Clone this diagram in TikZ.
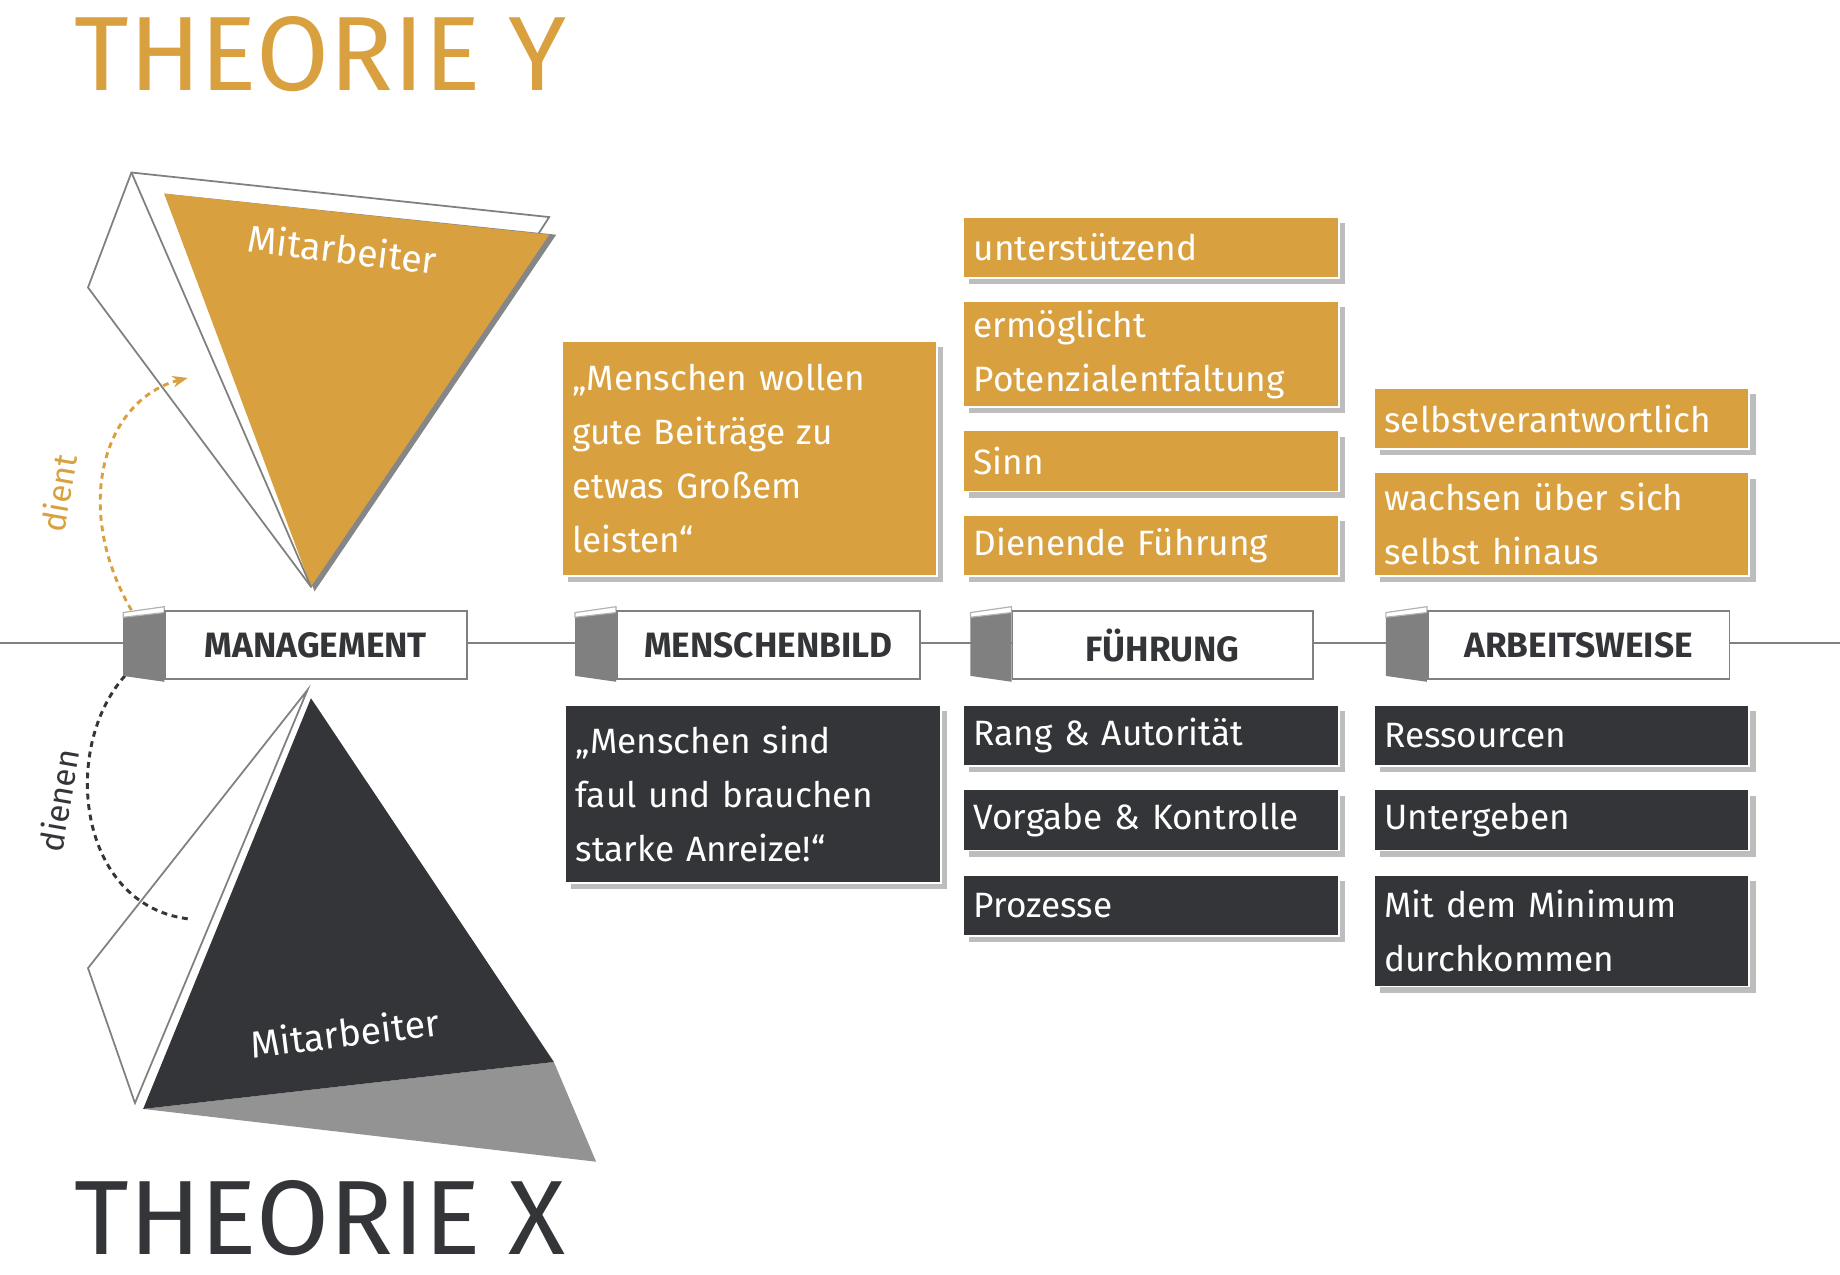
\documentclass[tikz,border=0pt]{standalone}
\usepackage{fontspec}
\setmainfont{Fira Sans}
\usetikzlibrary{arrows.meta}
\definecolor{org}{HTML}{D9A03F}
\definecolor{drk}{HTML}{333538}
\definecolor{shd}{HTML}{BDBDBD}
\tikzset{
 cbox/.style={anchor=north west,inner xsep=9pt,inner ysep=4pt,text=white,align=left,font=\fontsize{30}{46}\selectfont,draw=white,line width=1.5pt},
 obox/.style={cbox,fill=org},
 dbox/.style={cbox,fill=drk},
 hdr/.style={draw=gray,line width=1.5pt,fill=white,font=\fontsize{30}{36}\selectfont\bfseries,text=drk,inner sep=0pt},
 arc/.style={dash pattern=on 5pt off 4pt,line width=2.5pt,-{Stealth[length=13pt]}},
}
\begin{document}
\begin{tikzpicture}[x=1pt,y=-1pt]
\useasboundingbox (0,0) rectangle (1568,1086);
% titles
\node[anchor=west,text=org,font=\fontsize{90}{90}\selectfont] (ty) at (60,46) {THEORIE Y};
\node[anchor=west,text=drk,font=\fontsize{90}{90}\selectfont] (tx) at (60,1038) {THEORIE X};
% axis
\draw[gray,line width=1.5pt] (0,548) -- (1568,548);
% top triangle
\draw[gray,line width=1.5pt,fill=white] (112,147) -- (468,185) -- (265,500) -- (75,245) -- cycle;
\fill[drk!60] (140,165) -- (474,200) -- (268,504) -- cycle;
\fill[org] (140,165) -- (468,200) -- (265,500) -- cycle;
\draw[gray,line width=1.5pt] (112,147) -- (265,500);
\node[text=white,rotate=-7,font=\fontsize{32}{32}\selectfont] (m1) at (292,212) {Mitarbeiter};
% bottom triangle
\fill[gray!85] (122,945) -- (472,905) -- (508,990) -- cycle;
\draw[gray,line width=1.5pt,fill=white] (262,588) -- (75,825) -- (115,940) -- cycle;
\fill[drk] (265,595) -- (472,905) -- (122,945) -- cycle;
\node[text=white,rotate=7,font=\fontsize{32}{32}\selectfont] (m2) at (294,880) {Mitarbeiter};
% arcs
\coordinate (a1) at (112,520); \coordinate (a2) at (160,322);
\draw[org,arc] (a1) .. controls (60,430) and (90,340) .. (a2);
\node[org,rotate=80,font=\fontsize{28}{28}\selectfont] (dient) at (50,420) {dient};
\coordinate (b1) at (160,783); \coordinate (b2) at (124,560);
\draw[drk,arc] (b1) .. controls (60,770) and (50,620) .. (b2);
\node[drk,rotate=80,font=\fontsize{28}{28}\selectfont] (dienen) at (50,682) {dienen};
% header boxes
\foreach \n/\xa/\xb/\t in {h1/140/397/MANAGEMENT,h2/525/783/MENSCHENBILD,h3/862/1118/FÜHRUNG,h4/1216/1473/ARBEITSWEISE}{
 \pgfmathsetmacro\xs{\xa-35}
 \fill[gray] (\xs,522) -- (\xa,517) -- (\xa,581) -- (\xs,576) -- cycle;
 \draw[gray!60,line width=1pt,fill=white] (\xs,522) -- (\xa,517) -- (\xa,522) -- (\xs,526) -- cycle;
 \node[hdr,minimum width=\xb-\xa,minimum height=58pt,anchor=north west] (\n) at (\xa,520) {\t};
}
% orange boxes
\foreach \x/\y/\w/\h/\t in {
 478/290/320/200/{„Menschen wollen\\gute Beiträge zu\\etwas Großem\\leisten“},
 820/184/320/52/{unterstützend},
 820/256/320/90/{ermöglicht\\Potenzialentfaltung},
 820/366/320/52/{Sinn},
 820/438/320/52/{Dienende Führung},
 1170/330/320/52/{selbstverantwortlich},
 1170/402/320/88/{wachsen über sich\\selbst hinaus}}{
 \fill[shd] (\x+6,\y+6) rectangle ++(\w,\h);
 \node[obox,minimum width=\w pt,minimum height=\h pt,text width=\w pt-18pt] at (\x,\y) {\t};
}
% dark boxes
\foreach \x/\y/\w/\h/\t in {
 481/600/320/152/{„Menschen sind\\faul und brauchen\\starke Anreize!“},
 820/600/320/52/{Rang \& Autorität},
 820/672/320/52/{Vorgabe \& Kontrolle},
 820/745/320/52/{Prozesse},
 1170/600/320/52/{Ressourcen},
 1170/672/320/52/{Untergeben},
 1170/745/320/95/{Mit dem Minimum\\durchkommen}}{
 \fill[shd] (\x+6,\y+6) rectangle ++(\w,\h);
 \node[dbox,minimum width=\w pt,minimum height=\h pt,text width=\w pt-18pt] at (\x,\y) {\t};
}
\end{tikzpicture}
\end{document}
